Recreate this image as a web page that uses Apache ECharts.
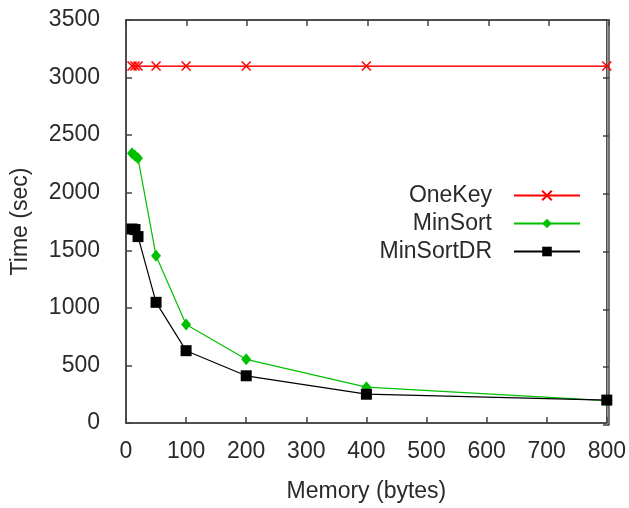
<!DOCTYPE html>
<html><head><meta charset="utf-8">
<script src="https://cdn.jsdelivr.net/npm/echarts@6/dist/echarts.min.js"></script>
<style>html,body{margin:0;padding:0;background:#fff}#c{width:629px;height:508px}</style>
</head><body><div id="c"></div>
<script>
var memory = [10, 15, 20, 50, 100, 200, 400, 800];
var oneKey = [3100, 3100, 3100, 3100, 3100, 3100, 3100, 3100];
var minSort = [2342, 2320, 2299, 1452, 856, 553, 311, 195];
var minSortDR = [1685, 1680, 1619, 1048, 628, 410, 250, 199];
var xTicks = [0, 100, 200, 300, 400, 500, 600, 700, 800];
var yTicks = [0, 500, 1000, 1500, 2000, 2500, 3000, 3500];

function pairs(v){ return memory.map(function(m,i){ return [m, v[i]]; }); }
var font = 'Liberation Sans';
var txt = '#2a2a2a';
var crossPath = 'path://M0,0L10,10M10,0L0,10';
function axisLine(){ return {show: true, onZero: false, lineStyle: {color: '#444', width: 1.5}}; }
function axisTick(){ return {show: true, inside: true, length: 6, lineStyle: {color: '#444', width: 1.5}}; }
var chart = echarts.init(document.getElementById('c'));
chart.setOption({
  animation: false,
  textStyle: {fontFamily: font},
  grid: [
    {left: 126, right: 20, top: 20, bottom: 83, show: true, borderColor: '#444', borderWidth: 1.5},
    {left: 126, right: 20, top: 20, bottom: 83}
  ],
  legend: {
    orient: 'vertical', align: 'right', right: 43, top: 179,
    itemWidth: 66, itemHeight: 12, itemGap: 5,
    textStyle: {fontSize: 23, color: txt, fontFamily: font, width: 170, align: 'right', padding: [0, 17, 0, 0]},
    data: ['OneKey', 'MinSort', 'MinSortDR']
  },
  xAxis: [
    {type: 'value', gridIndex: 0, position: 'bottom', min: 0, max: 800, interval: 100,
      name: 'Memory (bytes)', nameLocation: 'middle', nameGap: 57,
      nameTextStyle: {fontSize: 23, color: txt},
      axisLine: axisLine(), axisTick: axisTick(), splitLine: {show: false},
      axisLabel: {fontSize: 23, color: txt, margin: 17,
        formatter: function(v){ return xTicks.indexOf(v) >= 0 ? String(v) : ''; }}},
    {type: 'value', gridIndex: 1, position: 'top', min: 0, max: 800, interval: 100,
      axisLine: axisLine(), axisTick: axisTick(), splitLine: {show: false},
      axisLabel: {show: false}}
  ],
  yAxis: [
    {type: 'value', gridIndex: 0, position: 'left', min: 0, max: 3500, interval: 500,
      name: 'Time (sec)', nameLocation: 'middle', nameGap: 94,
      nameTextStyle: {fontSize: 23, color: txt},
      axisLine: axisLine(), axisTick: axisTick(), splitLine: {show: false},
      axisLabel: {fontSize: 23, color: txt, margin: 26,
        formatter: function(v){ return yTicks.indexOf(v) >= 0 ? String(v) : ''; }}},
    {type: 'value', gridIndex: 1, position: 'right', min: 0, max: 3500, interval: 500,
      axisLine: axisLine(), axisTick: axisTick(), splitLine: {show: false},
      axisLabel: {show: false}}
  ],
  series: [
    {name: 'OneKey', type: 'line', data: pairs(oneKey), symbol: crossPath, symbolSize: 9,
      lineStyle: {color: '#ff0000', width: 1},
      itemStyle: {color: '#ff0000', borderColor: '#ff0000', borderWidth: 1.5}},
    {name: 'MinSort', type: 'line', data: pairs(minSort), symbol: 'diamond', symbolSize: [10, 12],
      lineStyle: {color: '#00c000', width: 1.2},
      itemStyle: {color: '#00c000'}},
    {name: 'MinSortDR', type: 'line', data: pairs(minSortDR), symbol: 'rect', symbolSize: 11,
      lineStyle: {color: '#000', width: 1.2},
      itemStyle: {color: '#000'}},
    {name: 'OneKey', type: 'line', xAxisIndex: 1, yAxisIndex: 1, data: pairs(oneKey),
      symbol: 'none', silent: true, lineStyle: {color: '#ff0000', width: 1}}
  ]
});
</script></body></html>
